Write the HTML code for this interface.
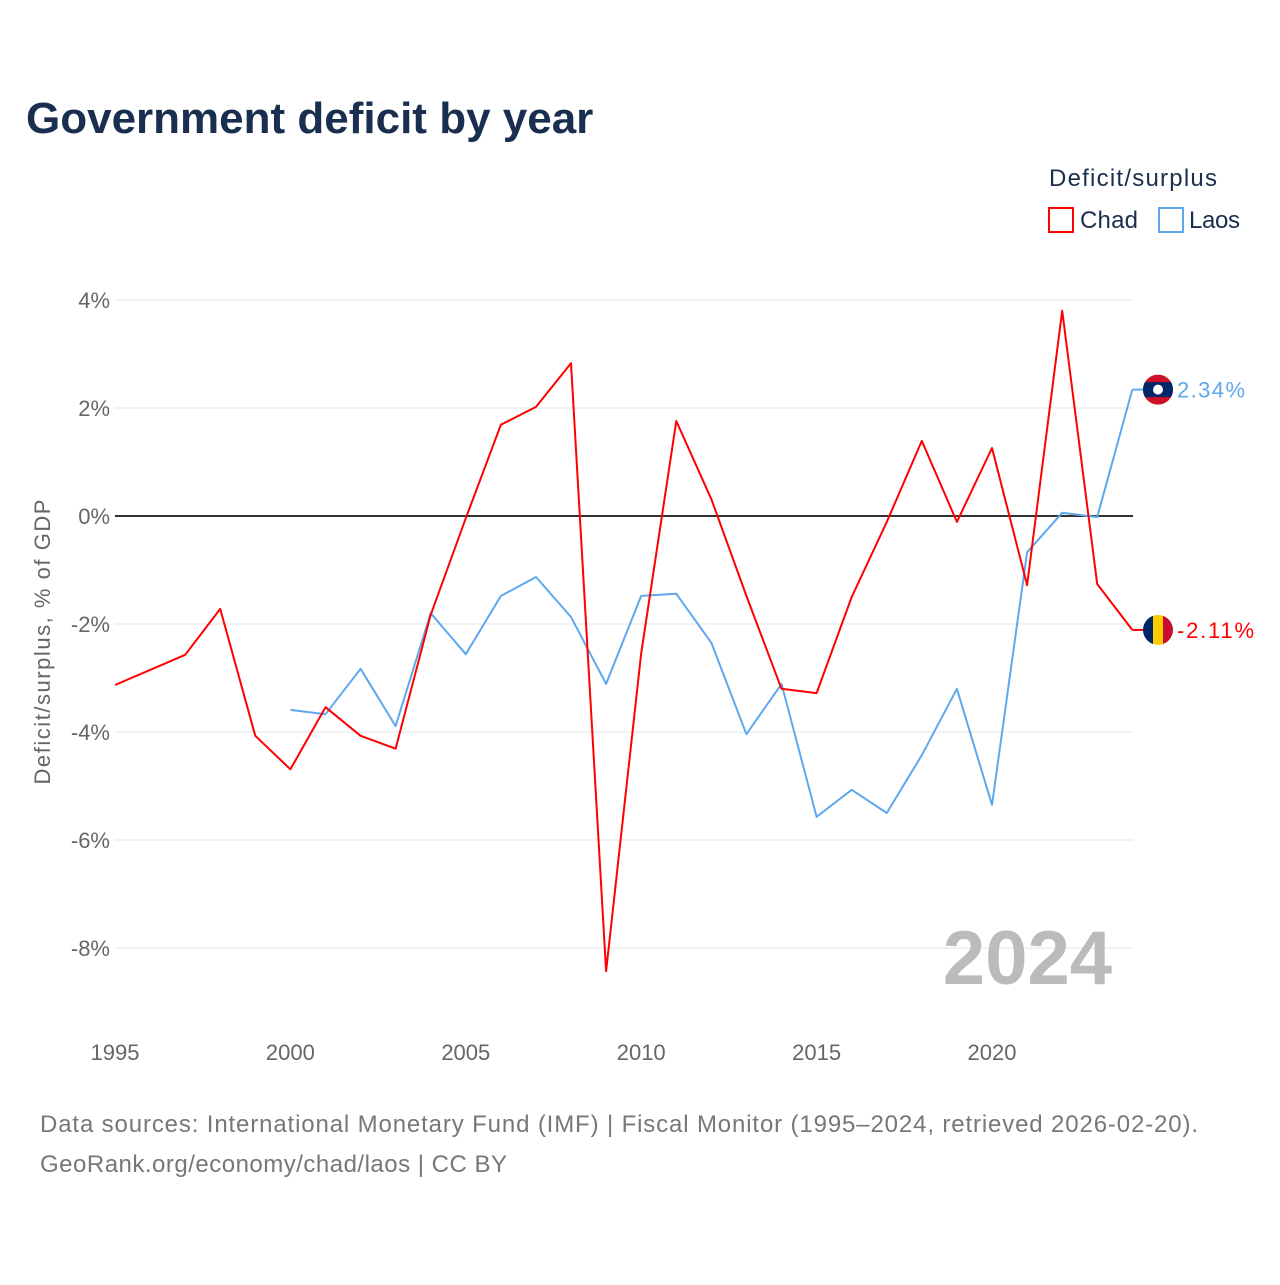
<!DOCTYPE html>
<html><head><meta charset="utf-8"><style>
body{margin:0;background:#fff;font-family:"Liberation Sans",sans-serif}
</style></head><body>
<svg width="1280" height="1280" xmlns="http://www.w3.org/2000/svg" font-family="Liberation Sans, sans-serif">
<text x="26" y="133" font-size="44" font-weight="bold" fill="#1a2e4f">Government deficit by year</text>
<text x="1049" y="186" font-size="24" fill="#1a2e4f" textLength="168">Deficit/surplus</text>
<g><rect x="1049" y="208" width="24" height="24" fill="none" stroke="#f00" stroke-width="2"/><text x="1080" y="228" font-size="24" fill="#1a2e4f" textLength="58">Chad</text></g>
<g><rect x="1159" y="208" width="24" height="24" fill="none" stroke="#5da8ee" stroke-width="2"/><text x="1189" y="228" font-size="24" fill="#1a2e4f" textLength="51">Laos</text></g>
<g id="grid"></g>
<text x="1112" y="984" font-size="76" font-weight="bold" fill="#bbb" text-anchor="end">2024</text>
<text transform="translate(50,642) rotate(-90)" font-size="22" fill="#666" text-anchor="middle" textLength="285">Deficit/surplus, % of GDP</text>
<g id="series"></g>
<text x="40" y="1132" font-size="24" fill="#777" textLength="1158">Data sources: International Monetary Fund (IMF) | Fiscal Monitor (1995–2024, retrieved 2026-02-20).</text>
<text x="40" y="1172" font-size="24" fill="#777" textLength="467">GeoRank.org/economy/chad/laos | CC BY</text>
</svg>
<script>
const years=[1995,1996,1997,1998,1999,2000,2001,2002,2003,2004,2005,2006,2007,2008,2009,2010,2011,2012,2013,2014,2015,2016,2017,2018,2019,2020,2021,2022,2023,2024];
const chad=[-3.13,-2.85,-2.57,-1.72,-4.07,-4.69,-3.54,-4.07,-4.31,-1.83,-0.04,1.69,2.02,2.83,-8.43,-2.54,1.76,0.31,-1.48,-3.2,-3.28,-1.5,-0.11,1.39,-0.11,1.26,-1.28,3.8,-1.26,-2.11];
const laos=[null,null,null,null,null,-3.59,-3.67,-2.83,-3.89,-1.8,-2.56,-1.48,-1.13,-1.87,-3.11,-1.48,-1.44,-2.35,-4.04,-3.11,-5.57,-5.07,-5.5,-4.43,-3.2,-5.35,-0.67,0.06,-0.02,2.34];
const yTicks=[4,2,0,-2,-4,-6,-8];
const xTicks=[1995,2000,2005,2010,2015,2020];
const NS="http://www.w3.org/2000/svg";
const X=y=>115+(y-1995)*35.08, Y=v=>516-v*54;
function mk(t,a,p){const e=document.createElementNS(NS,t);for(const k in a)e.setAttribute(k,a[k]);p.appendChild(e);return e;}
const g=document.getElementById('grid'), s=document.getElementById('series');
yTicks.forEach(v=>{
  const l=mk('line',{x1:115,x2:1133,y1:Y(v),y2:Y(v),stroke:v===0?'#333':'#e6e6e6','stroke-width':v===0?2:1},g);
  
  
  const t=mk('text',{x:110,y:Y(v)+8,'font-size':22,fill:'#666','text-anchor':'end'},g);
  t.textContent=v+'%';
  
  
});
xTicks.forEach(v=>{
  const t=mk('text',{x:X(v),y:1060,'font-size':22,fill:'#666','text-anchor':'middle'},g);
  t.textContent=v;
  
  
});
function line(vals,col,name){
  let d='';vals.forEach((v,i)=>{if(v===null)return;d+=(d?'L':'M')+X(years[i]).toFixed(1)+','+Y(v).toFixed(1);});
  const p=mk('path',{d:d,fill:'none',stroke:col,'stroke-width':2,'stroke-linejoin':'round'},s);
  
  
}
line(laos,'#5da8ee','laos-line');
line(chad,'#f00','chad-line');
const last=years.length-1;
const ly=Y(laos[last]);
mk('line',{x1:X(2024),x2:1145,y1:ly,y2:ly,stroke:'#5da8ee','stroke-width':2},s);
const lf=mk('g',{},s);


const cp1=mk('clipPath',{id:'c1'},lf);mk('circle',{cx:1158,cy:ly,r:15},cp1);
const lg=mk('g',{'clip-path':'url(#c1)'},lf);
mk('rect',{x:1143,y:ly-15,width:30,height:30,fill:'#ce1126'},lg);
mk('rect',{x:1143,y:ly-7.5,width:30,height:15,fill:'#002868'},lg);
mk('circle',{cx:1158,cy:ly,r:5,fill:'#fff'},lg);
const lt=mk('text',{x:1177,y:ly+8,'font-size':22,fill:'#5da8ee',textLength:68},s);
lt.textContent=laos[last].toFixed(2)+'%';


const cy=Y(chad[last]);
mk('line',{x1:X(2024),x2:1145,y1:cy,y2:cy,stroke:'#f00','stroke-width':2},s);
const cf=mk('g',{},s);


const cp=mk('clipPath',{id:'c2'},cf);mk('circle',{cx:1158,cy:cy,r:15},cp);
const cg=mk('g',{'clip-path':'url(#c2)'},cf);
mk('rect',{x:1143,y:cy-15,width:10,height:30,fill:'#002664'},cg);
mk('rect',{x:1153,y:cy-15,width:10,height:30,fill:'#fecb00'},cg);
mk('rect',{x:1163,y:cy-15,width:10,height:30,fill:'#c60c30'},cg);
const ct=mk('text',{x:1177,y:cy+8,'font-size':22,fill:'#f00',textLength:77},s);
ct.textContent=chad[last].toFixed(2)+'%';


</script>
</body></html>
